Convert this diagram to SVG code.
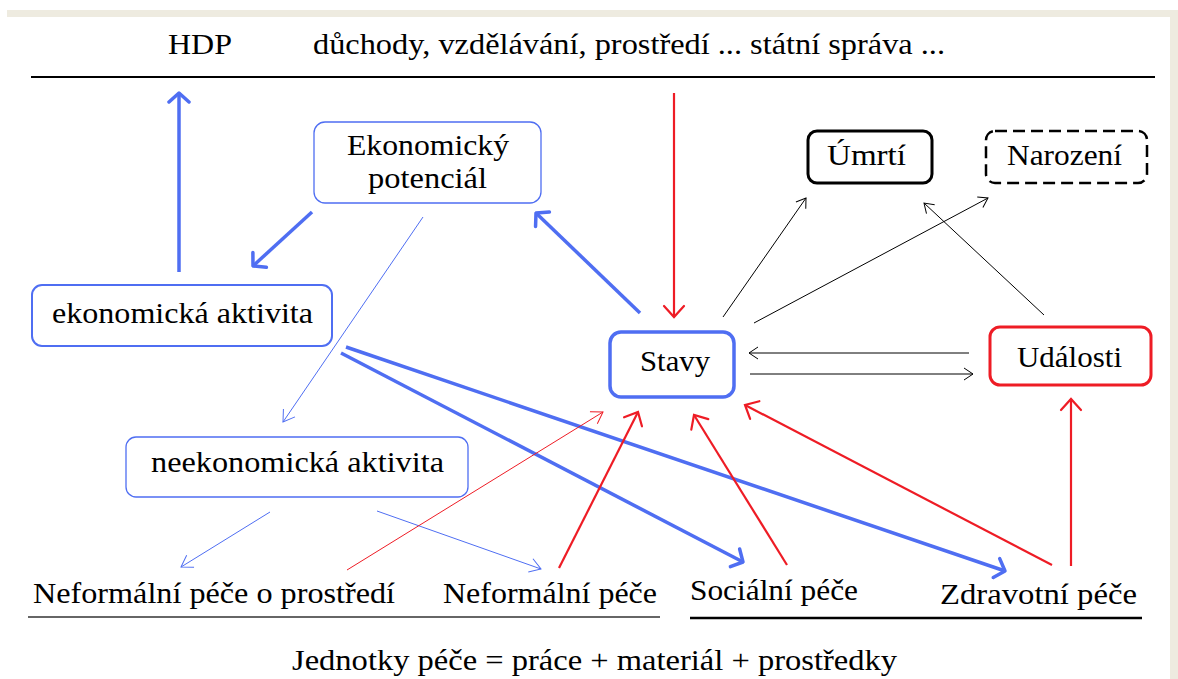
<svg xmlns="http://www.w3.org/2000/svg" width="1178" height="679" viewBox="0 0 1178 679" font-family="'Liberation Serif', 'DejaVu Serif', serif">
<style>
text{font-family:'Liberation Serif','DejaVu Serif',serif;font-size:30px;fill:#000}
.box{fill:#fff}
.bl{stroke:#4F6EF2;fill:none}
.rd{stroke:#EE1C25;fill:none}
.bk{stroke:#000;fill:none}
.thick{stroke-width:3.5}
.med{stroke-width:2.2}
.thin{stroke-width:1}
</style>
<defs>
<marker id="ab" viewBox="-14 -12 16 24" refX="0" refY="0" markerWidth="16" markerHeight="24" markerUnits="userSpaceOnUse" orient="auto"><path d="M-9,-10 L0,0 L-9,10" fill="none" stroke="#4F6EF2" stroke-width="3.5" stroke-linecap="round" stroke-linejoin="round"/></marker>
<marker id="abt" viewBox="-14 -10 16 20" refX="0" refY="0" markerWidth="16" markerHeight="20" markerUnits="userSpaceOnUse" orient="auto"><path d="M-11,-7 L0,0 L-11,7" fill="none" stroke="#4F6EF2" stroke-width="1"/></marker>
<marker id="ar" viewBox="-14 -12 16 24" refX="0" refY="0" markerWidth="16" markerHeight="24" markerUnits="userSpaceOnUse" orient="auto"><path d="M-11,-10 L0,0 L-11,10" fill="none" stroke="#EE1C25" stroke-width="2.2" stroke-linecap="round"/></marker>
<marker id="art" viewBox="-14 -10 16 20" refX="0" refY="0" markerWidth="16" markerHeight="20" markerUnits="userSpaceOnUse" orient="auto"><path d="M-11,-7 L0,0 L-11,7" fill="none" stroke="#EE1C25" stroke-width="1"/></marker>
<marker id="ak" viewBox="-14 -10 16 20" refX="0" refY="0" markerWidth="16" markerHeight="20" markerUnits="userSpaceOnUse" orient="auto"><path d="M-9,-6 L0,0 L-9,6" fill="none" stroke="#000" stroke-width="1"/></marker>
</defs>
<rect x="0" y="0" width="1178" height="679" fill="#fff"/>
<rect x="7" y="10" width="1171" height="7" fill="#EEEBE0"/>
<rect x="1170" y="10" width="8" height="669" fill="#EEEBE0"/>

<g id="header">
<text x="168" y="54" textLength="64" lengthAdjust="spacingAndGlyphs">HDP</text>
<text x="313" y="54" textLength="632" lengthAdjust="spacingAndGlyphs">důchody, vzdělávání, prostředí ... státní správa ...</text>
<line x1="31" y1="77" x2="1155" y2="77" stroke="#000" stroke-width="2"/>
</g>

<g id="connectors">
<path class="bl thick" d="M179,272 L179,93" marker-end="url(#ab)"/>
<path class="bl thick" d="M312,212 L253,266" marker-end="url(#ab)"/>
<path class="bl thick" d="M640,313 L536,213" marker-end="url(#ab)"/>
<path class="bl thick" d="M341,353 L743,562" marker-end="url(#ab)"/>
<path class="bl thick" d="M346,347 L1005,571" marker-end="url(#ab)"/>
<path class="bl thin" d="M423,217 L283,422" marker-end="url(#abt)"/>
<path class="bl thin" d="M270,512 L181,567" marker-end="url(#abt)"/>
<path class="bl thin" d="M377,511 L541,569" marker-end="url(#abt)"/>
<path class="rd thin" d="M347,570 L603,412" marker-end="url(#art)"/>
<path class="rd med" d="M559,568 L638,412" marker-end="url(#ar)"/>
<path class="rd med" d="M787,565 L694,415" marker-end="url(#ar)"/>
<path class="rd med" d="M1052,565 L745,405" marker-end="url(#ar)"/>
<path class="rd med" d="M1071,566 L1071,399" marker-end="url(#ar)"/>
<path class="rd med" d="M674,93 L674,317" marker-end="url(#ar)"/>
<path class="bk thin" d="M723,317 L806,198" marker-end="url(#ak)"/>
<path class="bk thin" d="M754,323 L988,198" marker-end="url(#ak)"/>
<path class="bk thin" d="M1044,315 L924,203" marker-end="url(#ak)"/>
<path class="bk thin" d="M969,353 L749,353" marker-end="url(#ak)"/>
<path class="bk thin" d="M750,374 L973,374" marker-end="url(#ak)"/>
</g>

<g id="ekonomicky-potencial">
<rect class="box" x="314" y="122" width="227" height="81" rx="11" stroke="#4F6EF2" stroke-width="1.3"/>
<text x="347" y="155" textLength="162" lengthAdjust="spacingAndGlyphs">Ekonomický</text>
<text x="368" y="188" textLength="119" lengthAdjust="spacingAndGlyphs">potenciál</text>
</g>

<g id="ekonomicka-aktivita">
<rect class="box" x="32" y="285" width="300" height="61" rx="10" stroke="#4F6EF2" stroke-width="2"/>
<text x="52" y="323" textLength="261" lengthAdjust="spacingAndGlyphs">ekonomická aktivita</text>
</g>

<g id="neekonomicka-aktivita">
<rect class="box" x="126" y="437" width="342" height="60" rx="10" stroke="#4F6EF2" stroke-width="1.3"/>
<text x="151" y="472" textLength="293" lengthAdjust="spacingAndGlyphs">neekonomická aktivita</text>
</g>

<g id="stavy">
<rect class="box" x="610" y="332" width="124" height="65" rx="11" stroke="#4F6EF2" stroke-width="3.5"/>
<text x="640" y="371" textLength="70" lengthAdjust="spacingAndGlyphs">Stavy</text>
</g>

<g id="udalosti">
<rect class="box" x="990" y="327" width="161" height="58" rx="10" stroke="#EE1C25" stroke-width="3"/>
<text x="1017" y="367" textLength="105" lengthAdjust="spacingAndGlyphs">Události</text>
</g>

<g id="umrti">
<rect class="box" x="808" y="131" width="124" height="52" rx="9" stroke="#000" stroke-width="3"/>
<text x="827" y="165" textLength="79" lengthAdjust="spacingAndGlyphs">Úmrtí</text>
</g>

<g id="narozeni">
<rect class="box" x="986" y="131" width="161" height="52" rx="9" stroke="#000" stroke-width="2.5" stroke-dasharray="12,6"/>
<text x="1007" y="165" textLength="115" lengthAdjust="spacingAndGlyphs">Narození</text>
</g>

<g id="neformalni-pece-o-prostredi">
<text x="33" y="603" textLength="362" lengthAdjust="spacingAndGlyphs">Neformální péče o prostředí</text>
</g>
<g id="neformalni-pece">
<text x="443" y="603" textLength="214" lengthAdjust="spacingAndGlyphs">Neformální péče</text>
</g>
<g id="socialni-pece">
<text x="690" y="600" textLength="168" lengthAdjust="spacingAndGlyphs">Sociální péče</text>
</g>
<g id="zdravotni-pece">
<text x="940" y="604" textLength="197" lengthAdjust="spacingAndGlyphs">Zdravotní péče</text>
</g>

<g id="footer">
<line x1="28" y1="617" x2="660" y2="617" stroke="#333" stroke-width="1.5"/>
<line x1="690" y1="618" x2="1142" y2="618" stroke="#000" stroke-width="2.5"/>
<text x="292" y="670" textLength="605" lengthAdjust="spacingAndGlyphs">Jednotky péče = práce + materiál + prostředky</text>
</g>
</svg>
